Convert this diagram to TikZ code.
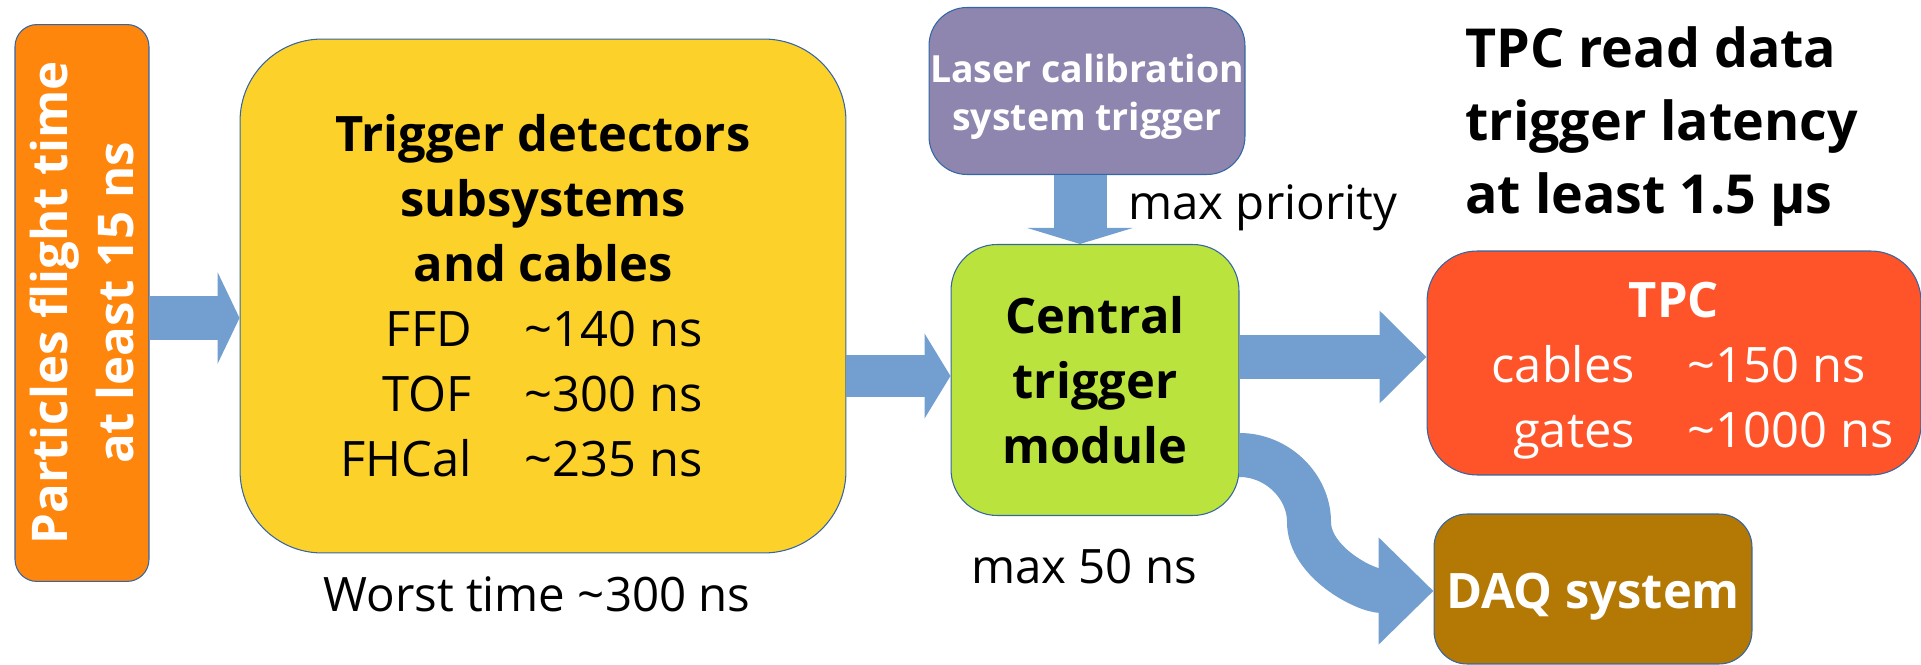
\documentclass[tikz,border=0pt]{standalone}
\usepackage{fontspec}
\setmainfont{Open Sans}
\usepackage{tikz}
\usetikzlibrary{arrows.meta}

\definecolor{flightorange}{HTML}{FF860D}
\definecolor{detyellow}{HTML}{FCD22A}
\definecolor{laserviolet}{HTML}{8E86AE}
\definecolor{ctmgreen}{HTML}{BBE33D}
\definecolor{tpcred}{HTML}{FF5429}
\definecolor{daqbrown}{HTML}{B47804}
\definecolor{arrowblue}{HTML}{729FCF}
\definecolor{edgeblue}{HTML}{3465A4}

\begin{document}
\begin{tikzpicture}[
            x = 0.02cm, y = -0.02cm, % one unit = one pixel, y going down
            font = \fontsize{27.8}{37}\selectfont
        ]

        \tikzstyle{block}=[
            draw = edgeblue,
            line width = 0.6pt,
            align = center,
            inner sep = 0pt
        ]
        \tikzstyle{note}=[
            inner sep = 0pt,
            font = \fontsize{27}{37}\selectfont
        ]
        \tikzstyle{fat}=[
            draw = arrowblue
        ]

        \useasboundingbox (0, 0) rectangle (1921, 665);

        % boxes
        \node[block, fill = flightorange, text = white, rotate = 90,
            minimum width = 11.14cm, minimum height = 2.68cm, rounded corners = 0.44cm,
            font = \bfseries\fontsize{28}{37.5}\selectfont] (flight) at (82, 303)
            {Particles flight time\\at least 15 ns};
        \node[block, fill = detyellow, minimum width = 12.12cm, minimum height = 10.28cm,
            rounded corners = 1.64cm] (detectors) at (543, 296)
            {\textbf{Trigger detectors}\\\textbf{subsystems}\\\textbf{and cables}\\
            \makebox[3cm][r]{FFD}\hspace{1.06cm}\makebox[4.78cm][l]{\textasciitilde140 ns}\\
            \makebox[3cm][r]{TOF}\hspace{1.06cm}\makebox[4.78cm][l]{\textasciitilde300 ns}\\
            \makebox[3cm][r]{FHCal}\hspace{1.06cm}\makebox[4.78cm][l]{\textasciitilde235 ns}};
        \node[block, fill = laserviolet, minimum width = 6.32cm, minimum height = 3.34cm,
            rounded corners = 0.76cm] (laser) at (1087, 91) {};
        \node[align = center, inner sep = 0pt, text = white,
            font = \bfseries\fontsize{21.3}{27.5}\selectfont] (lasertext) at (1087, 97)
            {Laser calibration\\system trigger};
        \node[block, fill = ctmgreen, minimum width = 5.76cm, minimum height = 5.42cm,
            rounded corners = 0.92cm, font = \bfseries\fontsize{27.8}{37}\selectfont] (central) at (1095, 380)
            {Central\\trigger\\module};
        \node[block, fill = tpcred, minimum width = 9.88cm, minimum height = 4.48cm,
            rounded corners = 1cm] (tpc) at (1674, 363) {};
        \node[align = center, inner sep = 0pt, text = white] (tpctext) at (1674, 371)
            {\textbf{TPC}\\
            \makebox[4cm][r]{cables}\hspace{1.06cm}\makebox[4.5cm][l]{\textasciitilde150 ns}\\
            \makebox[4cm][r]{gates}\hspace{1.06cm}\makebox[4.5cm][l]{\textasciitilde1000 ns}};
        \node[block, fill = daqbrown, minimum width = 6.36cm, minimum height = 3cm,
            rounded corners = 0.66cm] (daq) at (1593, 589) {};
        \node[inner sep = 0pt, text = white, font = \bfseries\fontsize{27.8}{37}\selectfont]
            (daqtext) at (1593, 597) {DAQ system};

        % labels
        \node[note, anchor = base west] (priority) at (1128, 220) {max priority};
        \node[note, anchor = base] (ctmtime) at (1084, 583) {max 50 ns};
        \node[note, anchor = base] (worst) at (537, 611) {Worst time \textasciitilde300 ns};
        \node[anchor = north west, inner sep = 0pt, align = left,
            font = \bfseries\fontsize{30.6}{41.5}\selectfont] (latency) at (1465, 26)
            {TPC read data\\trigger latency\\at least 1.5 µs};

        % block arrows
        \draw[fat, line width = 0.9cm, -{Triangle[length = 0.44cm, width = 1.82cm]}]
            (flight.south |- 0, 318) -- (detectors.west |- 0, 318);
        \draw[fat, line width = 0.86cm, -{Triangle[length = 0.52cm, width = 1.68cm]}]
            (detectors.east |- 0, 376) -- (central.west |- 0, 376);
        \draw[fat, line width = 1.06cm, -{Triangle[length = 0.32cm, width = 2.1cm]}]
            (laser.south -| 1080, 0) -- (central.north -| 1080, 0);
        \draw[fat, line width = 0.9cm, -{Triangle[length = 0.94cm, width = 1.8cm]}]
            (central.east |- 0, 357) -- (tpc.west |- 0, 357);
        \draw[fat, line width = 0.88cm, -{Triangle[length = 1.1cm, width = 2.08cm]}]
            (central.east |- 0, 455) .. controls (1277, 455) and (1309, 486) .. (1309, 522)
            .. controls (1309, 562) and (1365, 591) .. (daq.west |- 0, 591);

        %\draw[red] (0, 0) grid (1921, 665);
    \end{tikzpicture}
\end{document}
